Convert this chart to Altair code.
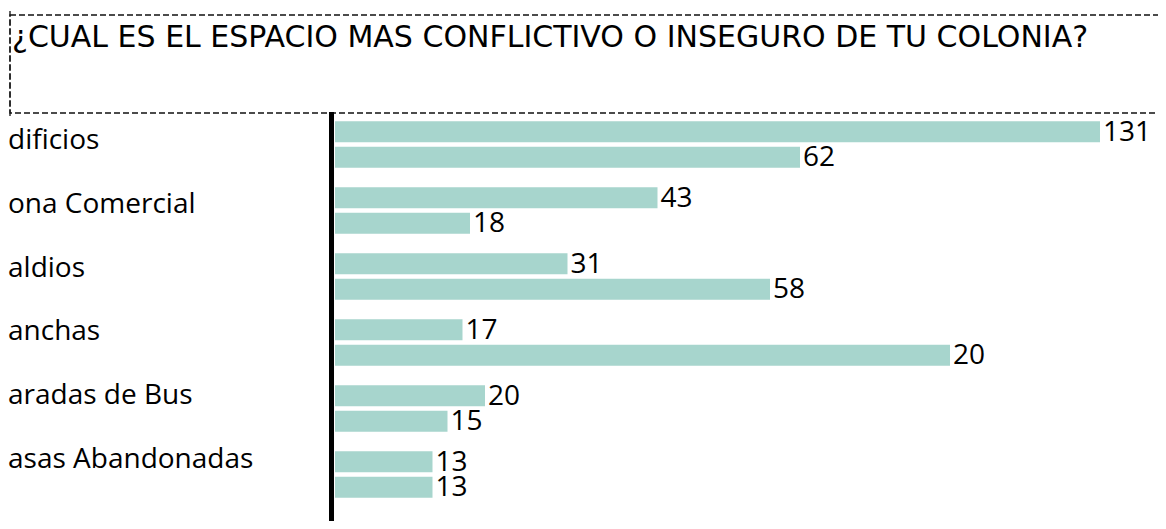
import altair as alt
import pandas as pd

TITLE = "¿CUAL ES EL ESPACIO MAS CONFLICTIVO O INSEGURO DE TU COLONIA?"
categories = ["dificios", "ona Comercial", "aldios", "anchas", "aradas de Bus", "asas Abandonadas"]
series = ["A", "B"]
bar_values_a = [102, 43, 31, 17, 20, 13]
bar_values_b = [62, 18, 58, 82, 15, 13]
labels_a = ["131", "43", "31", "17", "20", "13"]
labels_b = ["62", "18", "58", "20", "15", "13"]

rows = []
for i, c in enumerate(categories):
    rows.append({"cat": c, "serie": series[0], "value": bar_values_a[i], "label": labels_a[i]})
    rows.append({"cat": c, "serie": series[1], "value": bar_values_b[i], "label": labels_b[i]})
df = pd.DataFrame(rows)
cat_df = pd.DataFrame({"cat": categories})
title_df = pd.DataFrame({"t": [TITLE]})

W = 822
H = 409
PX_PER_UNIT = 7.5

x_scale = alt.Scale(domain=[0, W / PX_PER_UNIT], nice=False, zero=True)
y_scale = alt.Scale(paddingInner=0.295, paddingOuter=0.246, align=0.283)
yoff_scale = alt.Scale(paddingInner=0.176, paddingOuter=0)

X = alt.X("value:Q", scale=x_scale, axis=None)
Y = alt.Y("cat:N", sort=categories, scale=y_scale, axis=None)
YO = alt.YOffset("serie:N", sort=series, scale=yoff_scale)

bars = alt.Chart(df).mark_bar(color="#a7d5cd").encode(x=X, y=Y, yOffset=YO)

vals = alt.Chart(df).mark_text(
    align="left", baseline="middle", dx=3, dy=1, font="Open Sans", fontSize=28, color="black"
).encode(x=X, y=Y, yOffset=YO, text="label:N")

cat_labels = alt.Chart(cat_df).mark_text(
    align="left", baseline="middle", dy=2, font="Open Sans", fontSize=28, color="black"
).encode(
    x=alt.value(-327),
    y=alt.Y("cat:N", sort=categories,
            scale=alt.Scale(type="point", padding=0.715, align=0.302), axis=None),
    text="cat:N",
)

axis_line = alt.Chart(title_df).mark_rule(color="black", strokeWidth=5).encode(
    x=alt.value(-3.5), y=alt.value(0), y2=alt.value(H)
)

box = alt.Chart(title_df).mark_rect(
    fillOpacity=0, stroke="#111111", strokeWidth=1.3, strokeDash=[6, 3]
).encode(x=alt.value(-325), x2=alt.value(W + 20), y=alt.value(-97), y2=alt.value(1))

box_side = alt.Chart(title_df).mark_rule(
    color="#111111", strokeWidth=1.3, strokeDash=[6, 3]
).encode(x=alt.value(-325), y=alt.value(-110), y2=alt.value(5))

title = alt.Chart(title_df).mark_text(
    align="left", baseline="alphabetic", font="DejaVu Sans", fontSize=30, color="black"
).encode(x=alt.value(-323), y=alt.value(-65), text="t:N")

chart = alt.layer(box, box_side, title, bars, vals, cat_labels, axis_line).resolve_scale(
    y="independent"
).properties(
    width=W, height=H,
    autosize=alt.AutoSizeParams(type="none"),
    padding={"left": 327, "top": 104, "right": 1, "bottom": 0},
).configure_view(strokeWidth=0)

chart.save("out.html", embed_options={"renderer": "svg", "actions": False})
